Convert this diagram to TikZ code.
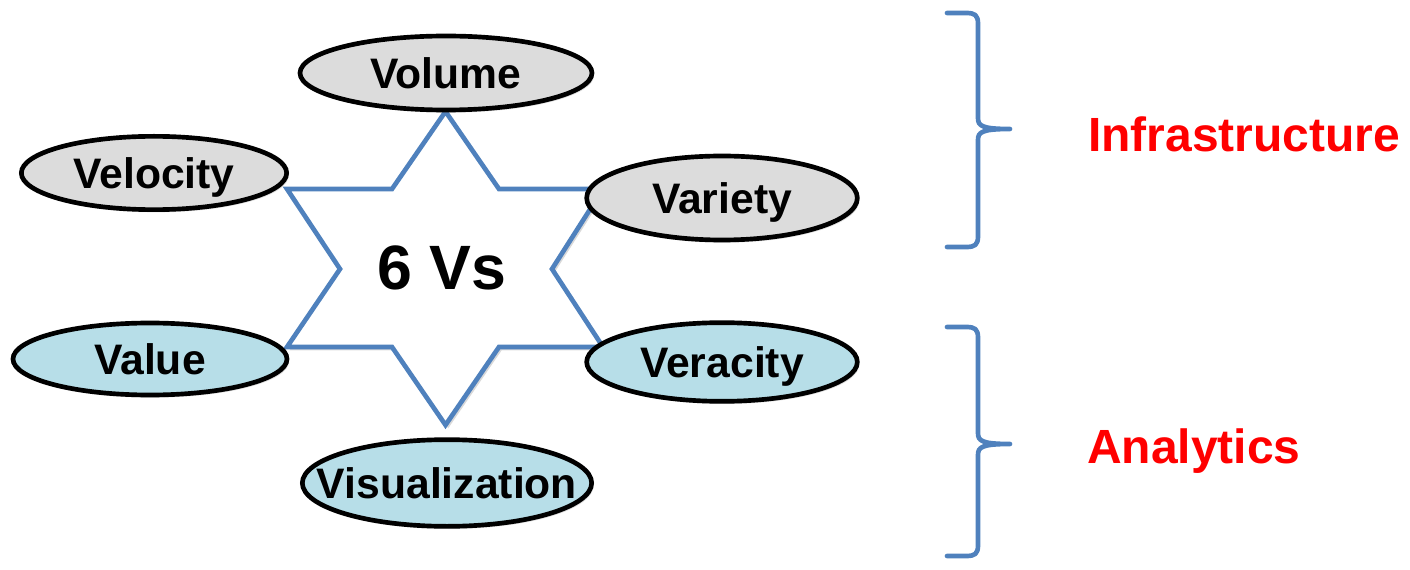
\documentclass[tikz,border=0pt]{standalone}
\usepackage{fontspec}
\setmainfont{Liberation Sans}
\usetikzlibrary{shapes.geometric,shadows}
\definecolor{starblue}{RGB}{79,129,189}
\definecolor{vgray}{RGB}{220,220,220}
\definecolor{vblue}{RGB}{183,222,232}
\tikzset{
  vtext/.style={inner sep=0pt, text height=23pt, text depth=0pt,
    font=\fontsize{32}{38}\selectfont\bfseries},
  vbubble/.style={ellipse, draw=black, line width=3.5pt, inner sep=0pt,
    drop shadow={opacity=0.25, shadow xshift=1.5pt, shadow yshift=-2pt},
    label={[vtext]center:#1}},
  infra/.style={vbubble=#1, fill=vgray},
  anly/.style={vbubble=#1, fill=vblue},
  grouplabel/.style={anchor=base west, inner sep=0pt, text=red,
    font=\fontsize{36}{42}\selectfont\bfseries},
  bracket/.style={draw=starblue, line width=3.5pt, line cap=round, line join=round}
}
\begin{document}
\begin{tikzpicture}[x=0.75pt,y=0.75pt,yscale=-1,xscale=1]
        \useasboundingbox (0,0) rectangle (1410,570);
        %Shape: Star [id:star6]
        \draw [draw=starblue, line width=3.5pt, line join=miter, fill=white,
               drop shadow={opacity=0.3, shadow xshift=2pt, shadow yshift=-2.5pt}]
          (445.5,111.5) -- (499,189) -- (603,189) -- (552,269) -- (603,347)
          -- (499,347) -- (445.5,425) -- (392,347) -- (287,347) -- (340,269)
          -- (287,189) -- (392,189) -- cycle ;
        % Text Node
        \node (sixvs) at (442,290) [anchor=base, inner sep=0pt,
          font=\fontsize{47}{54}\selectfont\bfseries] {6 Vs};

        %Shape: Ellipse [id:volume]
        \node (volume) at (446,73) [infra=Volume, minimum width=219pt, minimum height=55.5pt] {};
        %Shape: Ellipse [id:velocity]
        \node (velocity) at (154,173) [infra=Velocity, minimum width=199pt, minimum height=55pt] {};
        %Shape: Ellipse [id:variety]
        \node (variety) at (722,198) [infra=Variety, minimum width=203pt, minimum height=63pt] {};
        %Shape: Ellipse [id:value]
        \node (value) at (150,359) [anly=Value, minimum width=205.5pt, minimum height=54pt] {};
        %Shape: Ellipse [id:veracity]
        \node (veracity) at (722,362) [anly=Veracity, minimum width=203pt, minimum height=59pt] {};
        %Shape: Ellipse [id:visualization]
        \node (visualization) at (447,483) [anly=Visualization, minimum width=217pt, minimum height=65pt] {};

        %Shape: Brace [id:infrabrace]
        \coordinate (infratip) at (1010,129);
        \draw [bracket] (947,13) -- (966,13) .. controls (975,13) and (978,15) .. (978,24)
          -- (978,118) .. controls (978,126) and (982,129) .. (infratip)
          (978,140) .. controls (978,132) and (982,129) .. (infratip)
          (978,140) -- (978,236) .. controls (978,245) and (975,247) .. (966,247) -- (947,247) ;
        %Shape: Brace [id:anlybrace]
        \coordinate (anlytip) at (1010,444);
        \draw [bracket] (947,327) -- (966,327) .. controls (975,327) and (978,329) .. (978,338)
          -- (978,433) .. controls (978,441) and (982,444) .. (anlytip)
          (978,455) .. controls (978,447) and (982,444) .. (anlytip)
          (978,455) -- (978,545) .. controls (978,554) and (975,556) .. (966,556) -- (947,556) ;

        % Text Node
        \node (infralabel) at (1088,152) [grouplabel] {Infrastructure};
        % Text Node
        \node (anlylabel) at (1087,463) [grouplabel] {Analytics};
\end{tikzpicture}
\end{document}
